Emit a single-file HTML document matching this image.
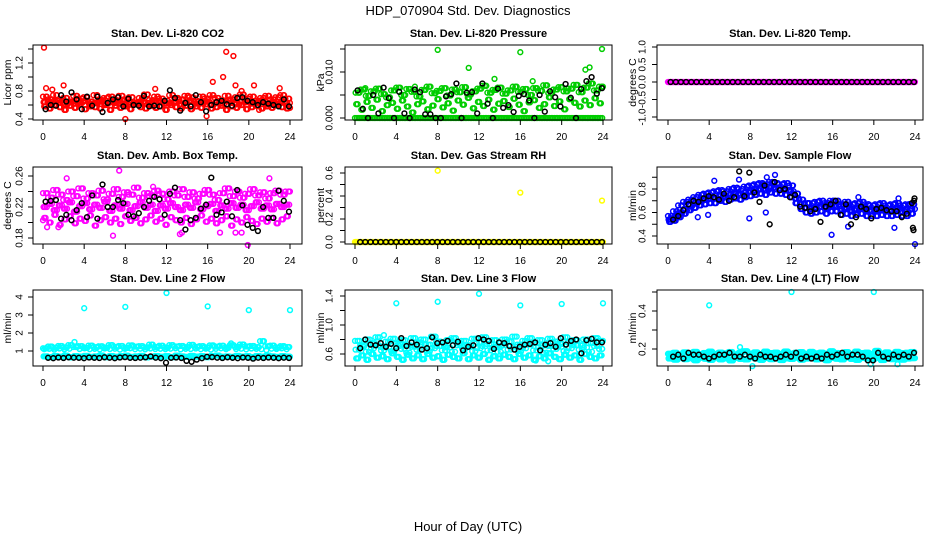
<!DOCTYPE html>
<html><head><meta charset="utf-8">
<style>
html,body{margin:0;padding:0;background:#fff;}
svg{display:block;font-family:"Liberation Sans",Arial,sans-serif;}
</style></head>
<body>
<svg id="c" width="936" height="540" viewBox="0 0 936 540" xmlns="http://www.w3.org/2000/svg">
<rect width="936" height="540" fill="#fff"/>
<text x="468" y="15" text-anchor="middle" font-size="13">HDP_070904 Std. Dev. Diagnostics</text>
<text x="468" y="531" text-anchor="middle" font-size="13">Hour of Day (UTC)</text>
<g id="panels"></g>
</svg>
<script>
// ---------- data ----------
const xTicks = [0,4,8,12,16,20,24];

// P1 CO2
const co2Hi = [0.72,0.68,0.74,0.66,0.70,0.64,0.73,0.69,0.71,0.65,0.74,0.67,0.70,0.72,0.66,0.73,0.68,0.71,0.64,0.70,0.75,0.67,0.72,0.69,0.66,0.74,0.70,0.68,0.73,0.71,0.65,0.72,0.69,0.74,0.70,0.66,0.73,0.68,0.71,0.75,0.69,0.72,0.66,0.70,0.73,0.68,0.71,0.74,0.69];
const co2Mid = [0.64,0.62,0.66,0.63,0.61,0.65,0.62,0.64,0.66,0.61,0.63,0.65,0.62,0.64,0.63,0.66,0.61,0.64,0.62,0.65,0.63,0.61,0.66,0.64,0.62,0.63,0.65,0.61,0.64,0.66,0.62,0.63,0.65,0.61,0.64,0.62,0.66,0.63,0.61,0.65,0.64,0.62,0.63,0.66,0.61,0.64,0.62,0.65,0.63];
const co2Lo = [0.58,0.55,0.60,0.57,0.53,0.59,0.56,0.61,0.54,0.58,0.57,0.55,0.60,0.53,0.59,0.56,0.58,0.54,0.61,0.57,0.55,0.59,0.56,0.58,0.53,0.60,0.57,0.55,0.59,0.54,0.58,0.56,0.61,0.55,0.57,0.59,0.53,0.58,0.56,0.60,0.54,0.57,0.59,0.55,0.58,0.56,0.60,0.57,0.55];
const co2OutT = [0.1,2.0,0.3,8.0,15.9,17.8,18.5,16.5,17.5,18.7,20.5,23.0,10.9,0.9,24.0,19.3,21.0];
const co2OutV = [1.42,0.88,0.84,0.40,0.44,1.36,1.30,0.93,1.00,0.88,0.88,0.84,0.83,0.82,0.56,0.80,0.53];
const co2Blk = [0.54,0.60,0.59,0.74,0.65,0.78,0.68,0.54,0.72,0.59,0.72,0.50,0.63,0.68,0.71,0.58,0.69,0.60,0.59,0.73,0.58,0.59,0.58,0.66,0.81,0.70,0.52,0.63,0.58,0.74,0.64,0.51,0.60,0.64,0.66,0.61,0.59,0.70,0.71,0.66,0.64,0.60,0.64,0.62,0.60,0.58,0.68,0.58];

// P2 pressure
const prZero = [0,0,0,0,0,0,0,0,0,0,0,0,0,0,0,0,0,0,0,0,0,0,0,0,0,0,0,0,0,0,0,0,0,0,0,0,0,0,0,0,0,0,0,0,0,0,0,0,0];
const prHi = [0.0055,0.0062,0.0048,0.0058,0.0064,0.0052,0.0045,0.0060,0.0066,0.0050,0.0063,0.0057,0.0047,0.0061,0.0068,0.0054,0.0059,0.0065,0.0049,0.0062,0.0056,0.0067,0.0051,0.0058,0.0064,0.0070,0.0055,0.0061,0.0066,0.0053,0.0060,0.0068,0.0057,0.0063,0.0050,0.0065,0.0059,0.0071,0.0054,0.0062,0.0067,0.0058,0.0064,0.0072,0.0056,0.0066,0.0075,0.0060,0.0068];
const prLo = [0.0030,0.0018,0.0035,0.0022,0.0040,0.0015,0.0028,0.0033,0.0020,0.0038,0.0025,0.0012,0.0030,0.0036,0.0019,0.0027,0.0041,0.0023,0.0032,0.0016,0.0038,0.0029,0.0044,0.0021,0.0035,0.0026,0.0040,0.0018,0.0031,0.0037,0.0024,0.0042,0.0029,0.0015,0.0034,0.0039,0.0022,0.0030,0.0045,0.0026,0.0036,0.0019,0.0041,0.0033,0.0025,0.0038,0.0028,0.0043,0.0032];
const prOutT = [8.0,16.0,23.9,11.0,13.5,22.3,22.7,1.0,5.8,17.2];
const prOutV = [0.0148,0.0143,0.0150,0.0109,0.0085,0.0105,0.0110,0.0065,0.0068,0.0080];
const prBlk = [0.0060,0.0020,0.0000,0.0050,0.0010,0.0066,0.0043,0.0000,0.0057,0.0010,0.0000,0.0062,0.0056,0.0008,0.0008,0.0000,0.0000,0.0047,0.0052,0.0075,0.0000,0.0055,0.0056,0.0010,0.0075,0.0031,0.0000,0.0064,0.0022,0.0028,0.0013,0.0048,0.0052,0.0038,0.0000,0.0050,0.0014,0.0058,0.0045,0.0025,0.0074,0.0044,0.0000,0.0063,0.0080,0.0089,0.0053,0.0065];

// P3 temp
const tmpMag = [0,0,0,0,0,0,0,0,0,0,0,0,0,0,0,0,0,0,0,0,0,0,0,0,0,0,0,0,0,0,0,0,0,0,0,0,0,0,0,0,0,0,0,0,0,0,0,0,0];
const tmpBlk = [0,0,0,0,0,0,0,0,0,0,0,0,0,0,0,0,0,0,0,0,0,0,0,0,0,0,0,0,0,0,0,0,0,0,0,0,0,0,0,0,0,0,0,0,0,0,0,0];

// P4 amb box temp
const boxHi = [0.238,0.232,0.242,0.236,0.229,0.240,0.234,0.244,0.231,0.238,0.235,0.241,0.230,0.237,0.243,0.233,0.239,0.236,0.245,0.232,0.238,0.234,0.241,0.237,0.230,0.240,0.235,0.243,0.233,0.239,0.231,0.237,0.242,0.236,0.229,0.238,0.244,0.234,0.240,0.232,0.237,0.243,0.235,0.239,0.231,0.238,0.241,0.236,0.240];
const boxMid = [0.220,0.224,0.216,0.222,0.218,0.226,0.214,0.221,0.225,0.217,0.223,0.219,0.227,0.215,0.222,0.218,0.224,0.216,0.221,0.226,0.219,0.223,0.215,0.222,0.218,0.225,0.220,0.216,0.223,0.219,0.226,0.217,0.221,0.224,0.215,0.222,0.218,0.225,0.219,0.223,0.216,0.221,0.226,0.218,0.222,0.217,0.224,0.220,0.223];
const boxLo = [0.206,0.200,0.210,0.197,0.204,0.208,0.199,0.205,0.202,0.209,0.196,0.203,0.207,0.200,0.205,0.198,0.208,0.202,0.206,0.199,0.204,0.209,0.201,0.205,0.197,0.207,0.203,0.200,0.206,0.198,0.204,0.209,0.201,0.205,0.199,0.203,0.208,0.196,0.204,0.200,0.207,0.202,0.198,0.205,0.201,0.206,0.199,0.204,0.208];
const boxOutT = [7.4,2.3,22.0,6.8,19.9,13.5,13.3,17.2,18.7,19.3,0.0,10.7,0.4,1.5];
const boxOutV = [0.267,0.257,0.257,0.183,0.171,0.187,0.185,0.187,0.187,0.187,0.203,0.246,0.194,0.194];
const boxBlk = [0.227,0.228,0.229,0.205,0.210,0.203,0.216,0.225,0.207,0.235,0.205,0.249,0.220,0.220,0.229,0.225,0.210,0.208,0.212,0.220,0.228,0.233,0.230,0.210,0.237,0.245,0.203,0.191,0.203,0.206,0.218,0.223,0.258,0.210,0.213,0.227,0.208,0.242,0.222,0.197,0.193,0.189,0.220,0.206,0.206,0.241,0.228,0.214];

// P5 RH
const rhYel = [0,0,0,0,0,0,0,0,0,0,0,0,0,0,0,0,0,0,0,0,0,0,0,0,0,0,0,0,0,0,0,0,0,0,0,0,0,0,0,0,0,0,0,0,0,0,0,0,0];
const rhOutT = [8.0,16.0,23.9];
const rhOutV = [0.62,0.43,0.36];
const rhBlk = [0,0,0,0,0,0,0,0,0,0,0,0,0,0,0,0,0,0,0,0,0,0,0,0,0,0,0,0,0,0,0,0,0,0,0,0,0,0,0,0,0,0,0,0,0,0,0,0];

// P6 sample flow
const sfHi = [0.57,0.61,0.66,0.69,0.71,0.73,0.75,0.76,0.77,0.78,0.79,0.78,0.80,0.81,0.80,0.82,0.83,0.84,0.85,0.84,0.86,0.85,0.84,0.85,0.83,0.76,0.71,0.68,0.68,0.69,0.70,0.68,0.70,0.70,0.67,0.69,0.67,0.68,0.69,0.67,0.66,0.67,0.68,0.66,0.67,0.68,0.66,0.67,0.67];
const sfMid = [0.54,0.56,0.60,0.63,0.66,0.68,0.70,0.71,0.72,0.72,0.74,0.73,0.75,0.76,0.75,0.77,0.78,0.79,0.80,0.79,0.81,0.80,0.80,0.79,0.78,0.72,0.67,0.64,0.63,0.64,0.65,0.64,0.66,0.65,0.63,0.64,0.62,0.63,0.64,0.62,0.61,0.62,0.63,0.61,0.62,0.63,0.61,0.62,0.63];
const sfLo = [0.52,0.53,0.56,0.59,0.62,0.64,0.66,0.67,0.68,0.68,0.70,0.69,0.71,0.72,0.71,0.73,0.74,0.75,0.76,0.75,0.77,0.76,0.76,0.75,0.73,0.68,0.63,0.60,0.59,0.60,0.61,0.59,0.61,0.61,0.58,0.59,0.57,0.58,0.59,0.57,0.57,0.57,0.58,0.57,0.57,0.58,0.57,0.57,0.59];
const sfOutT = [9.6,7.9,9.5,15.9,17.5,22.0,24.0,18.5,22.4,4.5,3.9,2.9,10.4,6.9];
const sfOutV = [0.90,0.55,0.60,0.41,0.48,0.47,0.33,0.73,0.72,0.87,0.58,0.56,0.92,0.88];
const sfBlk = [0.54,0.57,0.62,0.67,0.70,0.69,0.72,0.74,0.73,0.71,0.76,0.70,0.73,0.95,0.74,0.94,0.77,0.69,0.83,0.50,0.86,0.79,0.80,0.73,0.75,0.65,0.64,0.61,0.63,0.52,0.65,0.67,0.70,0.58,0.67,0.50,0.56,0.65,0.63,0.55,0.63,0.64,0.62,0.61,0.61,0.56,0.59,0.68];
const sfBlkOutT = [23.8,23.85,23.9,23.95];
const sfBlkOutV = [0.47,0.45,0.70,0.72];

// P7 Line 2
const l2Hi = [1.15,1.25,1.18,1.28,1.20,1.32,1.22,1.27,1.17,1.30,1.21,1.26,1.19,1.33,1.23,1.28,1.18,1.31,1.24,1.27,1.20,1.35,1.22,1.29,1.19,1.32,1.25,1.28,1.21,1.34,1.23,1.27,1.20,1.31,1.24,1.29,1.18,1.33,1.22,1.36,1.25,1.28,1.21,1.55,1.26,1.30,1.19,1.27,1.22];
const l2Mid = [1.10,1.12,1.08,1.14,1.09,1.13,1.50,1.11,1.15,1.10,1.12,1.09,1.14,1.11,1.13,1.08,1.12,1.15,1.10,1.13,1.09,1.14,1.11,1.12,1.10,1.13,1.15,1.09,1.12,1.11,1.14,1.10,1.13,1.08,1.12,1.15,1.10,1.42,1.11,1.13,1.09,1.14,1.12,1.10,1.05,1.13,1.11,1.15,1.10];
const l2Lo = [0.70,0.66,0.72,0.68,0.74,0.65,0.71,0.69,0.73,0.67,0.70,0.75,0.66,0.72,0.68,0.71,0.74,0.67,0.70,0.73,0.65,0.69,0.72,0.68,0.71,0.66,0.74,0.70,0.67,0.73,0.69,0.71,0.66,0.72,0.75,0.68,0.70,0.67,0.73,0.69,0.71,0.66,0.72,0.68,0.74,0.70,0.67,0.71,0.69];
const l2OutT = [4,8,12,16,20,24];
const l2OutV = [3.38,3.45,4.22,3.48,3.27,3.27];
const l2Blk = [0.62,0.60,0.64,0.61,0.65,0.63,0.62,0.60,0.64,0.62,0.61,0.65,0.63,0.60,0.64,0.66,0.62,0.61,0.63,0.65,0.70,0.63,0.60,0.35,0.62,0.64,0.61,0.45,0.40,0.52,0.60,0.68,0.66,0.63,0.61,0.65,0.62,0.60,0.64,0.62,0.58,0.63,0.61,0.64,0.62,0.60,0.63,0.61];

// P8 Line 3
const l3Hi = [0.78,0.72,0.80,0.75,0.83,0.70,0.77,0.81,0.74,0.79,0.72,0.82,0.76,0.80,0.73,0.84,0.77,0.71,0.79,0.82,0.75,0.78,0.72,0.81,0.76,0.83,0.74,0.79,0.71,0.80,0.77,0.84,0.73,0.78,0.82,0.75,0.79,0.72,0.81,0.77,0.74,0.83,0.76,0.79,0.72,0.80,0.75,0.82,0.78];
const l3Mid = [0.66,0.70,0.63,0.68,0.72,0.65,0.69,0.64,0.71,0.67,0.62,0.70,0.66,0.73,0.64,0.68,0.71,0.65,0.69,0.63,0.72,0.67,0.70,0.64,0.68,0.71,0.65,0.69,0.63,0.72,0.66,0.70,0.64,0.68,0.73,0.65,0.69,0.62,0.71,0.67,0.70,0.64,0.68,0.72,0.66,0.69,0.63,0.71,0.67];
const l3Lo = [0.54,0.58,0.52,0.60,0.55,0.57,0.53,0.61,0.56,0.52,0.59,0.54,0.58,0.53,0.60,0.55,0.57,0.52,0.59,0.56,0.54,0.61,0.53,0.58,0.55,0.60,0.52,0.57,0.54,0.59,0.56,0.53,0.60,0.55,0.58,0.52,0.57,0.54,0.61,0.56,0.53,0.59,0.55,0.58,0.52,0.60,0.56,0.54,0.58];
const l3OutT = [4,8,12,16,20,24,18.7,17.5,2.8];
const l3OutV = [1.30,1.32,1.43,1.27,1.29,1.30,0.50,0.51,0.86];
const l3Blk = [0.68,0.80,0.73,0.72,0.75,0.70,0.74,0.68,0.82,0.71,0.76,0.73,0.66,0.68,0.83,0.75,0.76,0.78,0.72,0.77,0.65,0.70,0.72,0.82,0.80,0.78,0.67,0.76,0.75,0.71,0.66,0.70,0.73,0.74,0.76,0.65,0.73,0.75,0.70,0.82,0.73,0.78,0.80,0.61,0.79,0.81,0.76,0.76];

// P9 Line 4
const l4Hi = [0.175,0.180,0.170,0.182,0.176,0.185,0.172,0.179,0.186,0.174,0.181,0.177,0.184,0.171,0.180,0.188,0.175,0.182,0.173,0.186,0.178,0.181,0.174,0.187,0.176,0.180,0.183,0.172,0.185,0.177,0.181,0.174,0.188,0.179,0.175,0.183,0.172,0.186,0.178,0.181,0.174,0.190,0.176,0.182,0.173,0.185,0.178,0.180,0.184];
const l4Lo = [0.150,0.144,0.156,0.147,0.152,0.141,0.155,0.149,0.143,0.157,0.146,0.151,0.140,0.154,0.148,0.145,0.158,0.150,0.143,0.153,0.147,0.156,0.142,0.151,0.148,0.155,0.144,0.150,0.157,0.146,0.152,0.141,0.154,0.149,0.145,0.156,0.148,0.143,0.153,0.150,0.146,0.155,0.142,0.151,0.147,0.154,0.144,0.150,0.152];
const l4OutT = [4,12,20,8.2,22.3,19.7,7.0];
const l4OutV = [0.43,0.50,0.50,0.11,0.12,0.12,0.21];
const l4Blk = [0.16,0.17,0.15,0.18,0.17,0.17,0.16,0.15,0.16,0.17,0.17,0.18,0.16,0.16,0.17,0.16,0.15,0.17,0.16,0.16,0.15,0.16,0.17,0.16,0.18,0.15,0.16,0.15,0.16,0.15,0.17,0.16,0.17,0.18,0.16,0.17,0.17,0.16,0.14,0.14,0.18,0.16,0.15,0.17,0.16,0.17,0.16,0.18];

// ---------- drawing ----------
const NS = 'http://www.w3.org/2000/svg';
const root = document.getElementById('panels');
function mk(tag, attrs, parent){
  const e = document.createElementNS(NS, tag);
  for (const k in attrs) e.setAttribute(k, attrs[k]);
  (parent||root).appendChild(e);
  return e;
}
const cols = [{l:33,r:302,x0:43,x24:290,tl:20,yt:8},{l:345,r:612,x0:355,x24:603,tl:330,yt:321},{l:657,r:923,x0:668,x24:915,tl:643,yt:633}];
const rows = [{t:45,b:120},{t:167,b:244},{t:290,b:366}];
const OFFS = [0,0.06,0.12,0.19,0.25,0.31,0.37,0.44];
// spread several value arrays over sub-interval time offsets to build dense clouds
function dense(color, arrays){
  return OFFS.map((o,k) => ({c:color, v:arrays[k % arrays.length], t0:o, t1:0.45-o}));
}

function panel(name, ci, ri, title, ytitle, cal, yTicks, yLabels, series){
  const c = cols[ci], r = rows[ri];
  const g = mk('g', {});
  
  
  const xs = t => c.x0 + t*(c.x24-c.x0)/24;
  const ys = v => cal[1] + (v-cal[0])*(cal[3]-cal[1])/(cal[2]-cal[0]);
  const tt = mk('text', {x:(c.l+c.r)/2, y:r.t-8, 'text-anchor':'middle', 'font-size':'11', 'font-weight':'bold'}, g);
  tt.textContent = title;
  
  
  const yt = mk('text', {x:c.yt, y:(r.t+r.b)/2, 'text-anchor':'middle', 'font-size':'10.5', 'dominant-baseline':'central', transform:`rotate(-90 ${c.yt} ${(r.t+r.b)/2})`}, g);
  yt.textContent = ytitle;
  
  
  const pg = mk('g', {fill:'none', 'stroke-width':'1.5'}, g);
  
  
  series.forEach(s => {
    const n = s.v.length;
    for (let i=0;i<n;i++){
      const t = s.t ? s.t[i] : s.t0 + i*(24 - s.t0 - (s.t1||0))/(n-1);
      const p = mk('circle', {cx:xs(t).toFixed(1), cy:ys(s.v[i]).toFixed(1), r:'2.4', stroke:s.c}, pg);
      
      
    }
  });
  const bx = mk('rect', {x:c.l, y:r.t, width:c.r-c.l, height:r.b-r.t, fill:'none', stroke:'#000', 'stroke-width':'1'}, g);
  
  
  const xa = mk('g', {stroke:'#000','stroke-width':'1'}, g);
  
  
  xTicks.forEach(t => {
    const x = xs(t);
    mk('line', {x1:x, x2:x, y1:r.b, y2:r.b+5}, xa);
    const lb = mk('text', {x:x, y:r.b+20, 'text-anchor':'middle', 'font-size':'10', stroke:'none', fill:'#000'}, xa);
    lb.textContent = t;
    
    
  });
  const ya = mk('g', {stroke:'#000','stroke-width':'1'}, g);
  
  
  yTicks.forEach((v,i) => {
    const y = ys(v);
    mk('line', {x1:c.l-5, x2:c.l, y1:y, y2:y}, ya);
    if (yLabels[i] !== ''){
      const lb = mk('text', {x:c.tl, y:y, 'text-anchor':'middle', 'font-size':'10', stroke:'none', fill:'#000', 'dominant-baseline':'central', transform:`rotate(-90 ${c.tl} ${y})`}, ya);
      lb.textContent = yLabels[i];
      
      
    }
  });
}
const RED='#ff0000', GRN='#00cd00', MAG='#ff00ff', YEL='#ffff00', BLU='#0000ff', CYN='#00ffff', BLK='#000000';

panel('panel-co2',0,0,'Stan. Dev. Li-820 CO2','Licor ppm',[0.4,119,1.4,49],
  [0.4,0.6,0.8,1.0,1.2,1.4],['0.4','','0.8','','1.2',''],
  dense(RED,[co2Hi,co2Mid,co2Lo,co2Mid,co2Lo,co2Hi]).concat([{c:RED,v:co2OutV,t:co2OutT},{c:BLK,v:co2Blk,t0:0.25,t1:0.1}]));
panel('panel-pressure',1,0,'Stan. Dev. Li-820 Pressure','kPa',[0,118,0.015,49],
  [0,0.005,0.010,0.015],['0.000','','0.010',''],
  dense(GRN,[prZero,prHi,prLo,prZero,prLo,prHi]).concat([{c:GRN,v:prOutV,t:prOutT},{c:BLK,v:prBlk,t0:0.25,t1:0.1}]));
panel('panel-temp',2,0,'Stan. Dev. Li-820 Temp.','degrees C',[-1,117,1,47],
  [-1,-0.5,0,0.5,1],['-1.0','-0.5','0.0','0.5','1.0'],
  dense(MAG,[tmpMag]).concat([{c:BLK,v:tmpBlk,t0:0.25,t1:0.1}]));
panel('panel-box-temp',0,1,'Stan. Dev. Amb. Box Temp.','degrees C',[0.18,238,0.26,176],
  [0.18,0.20,0.22,0.24,0.26],['0.18','','0.22','','0.26'],
  dense(MAG,[boxHi,boxMid,boxLo,boxMid,boxLo,boxHi,boxMid]).concat([{c:MAG,v:boxOutV,t:boxOutT},{c:BLK,v:boxBlk,t0:0.25,t1:0.1}]));
panel('panel-rh',1,1,'Stan. Dev. Gas Stream RH','percent',[0,242,0.6,173],
  [0,0.1,0.2,0.3,0.4,0.5,0.6],['0.0','','0.2','','0.4','','0.6'],
  dense(YEL,[rhYel]).concat([{c:YEL,v:rhOutV,t:rhOutT},{c:BLK,v:rhBlk,t0:0.5,t1:0.1}]));
panel('panel-sample-flow',2,1,'Stan. Dev. Sample Flow','ml/min',[0.4,236,0.8,189],
  [0.4,0.5,0.6,0.7,0.8,0.9],['0.4','','0.6','','0.8',''],
  dense(BLU,[sfHi,sfMid,sfLo,sfMid,sfLo,sfHi]).concat([{c:BLU,v:sfOutV,t:sfOutT},{c:BLK,v:sfBlk,t0:0.5,t1:0.3},{c:BLK,v:sfBlkOutV,t:sfBlkOutT}]));
panel('panel-line2',0,2,'Stan. Dev. Line 2 Flow','ml/min',[1,351,4,297],
  [1,2,3,4],['1','2','3','4'],
  dense(CYN,[l2Hi,l2Lo,l2Mid,l2Lo,l2Hi,l2Lo]).concat([{c:CYN,v:l2OutV,t:l2OutT},{c:BLK,v:l2Blk,t0:0.5,t1:0.1}]));
panel('panel-line3',1,2,'Stan. Dev. Line 3 Flow','ml/min',[0.6,354,1.4,296],
  [0.6,0.8,1.0,1.2,1.4],['0.6','','1.0','','1.4'],
  dense(CYN,[l3Hi,l3Mid,l3Lo,l3Lo,l3Hi,l3Lo,l3Mid]).concat([{c:CYN,v:l3OutV,t:l3OutT},{c:BLK,v:l3Blk,t0:0.5,t1:0.1}]));
panel('panel-line4',2,2,'Stan. Dev. Line 4 (LT) Flow','ml/min',[0.2,349,0.4,311],
  [0.2,0.3,0.4,0.5],['0.2','','0.4',''],
  dense(CYN,[l4Hi,l4Lo]).concat([{c:CYN,v:l4OutV,t:l4OutT},{c:BLK,v:l4Blk,t0:0.5,t1:0.1}]));
</script>
</body></html>
